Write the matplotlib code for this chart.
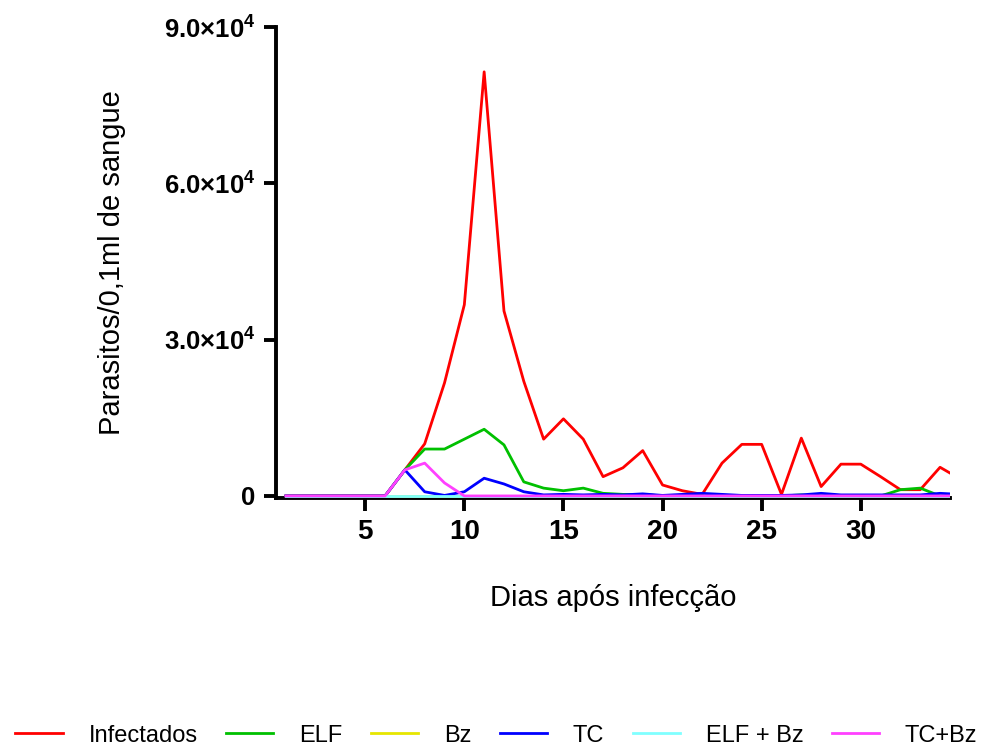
import numpy as np
import matplotlib
matplotlib.use("Agg")
import matplotlib.pyplot as plt

plt.rcParams['font.family'] = ['Liberation Sans', 'DejaVu Sans']
plt.rcParams['mathtext.fontset'] = 'custom'
plt.rcParams['mathtext.bf'] = 'Liberation Sans:bold'
plt.rcParams['mathtext.rm'] = 'Liberation Sans'

# dias apos infeccao
dias = np.arange(1, 36)

# parasitos/0,1ml
infectados = [0, 0, 0, 0, 0, 0, 5000, 10000, 21700, 36700, 81400, 35500, 22000,
              10900, 14800, 10900, 3700, 5400, 8700, 2100, 1000, 300, 6300, 9900,
              9900, 300, 11100, 1800, 6100, 6100, 3700, 1200, 1200, 5500, 3300]
elf = [0, 0, 0, 0, 0, 0, 5000, 9000, 9000, 10900, 12800, 9800, 2700,
       1500, 1000, 1500, 500, 300, 300, 0, 0, 0, 0, 0,
       0, 0, 200, 0, 0, 0, 0, 1200, 1500, 0, 0]
bz = [0] * 35
tc = [0, 0, 0, 0, 0, 0, 5000, 800, 100, 800, 3400, 2300, 800,
      200, 300, 200, 300, 200, 400, 100, 300, 500, 300, 100,
      100, 100, 200, 500, 200, 200, 200, 200, 200, 500, 300]
elf_bz = [0] * 35
tc_bz = [0, 0, 0, 0, 0, 0, 5000, 6300, 2500, 0, 0, 0, 0,
         0, 0, 0, 0, 0, 0, 0, 0, 0, 0, 0,
         0, 0, 0, 0, 0, 0, 0, 0, 0, 0, 0]

series = [
    ("Infectados", infectados, "#FF0000"),
    ("ELF", elf, "#00C000"),
    ("Bz", bz, "#E6E600"),
    ("TC", tc, "#0000FF"),
    ("ELF + Bz", elf_bz, "#80FFFF"),
    ("TC+Bz", tc_bz, "#FF40FF"),
]

yticks = [0, 30000, 60000, 90000]
ytick_labels = ["0", r"$\mathbf{3.0{\times}10^{4}}$", r"$\mathbf{6.0{\times}10^{4}}$",
                r"$\mathbf{9.0{\times}10^{4}}$"]
xticks = [5, 10, 15, 20, 25, 30]

fig = plt.figure(figsize=(9.83, 7.47), dpi=100)
ax = fig.add_axes([0.2808, 0.3333, 0.6856, 0.6305])

for nome, vals, cor in series:
    ax.plot(dias, vals, color=cor, lw=2.0, label=nome, zorder=3)

ax.set_xlim(0.5, 34.5)
ax.set_ylim(-400, 90000)
ax.set_xticks(xticks)
ax.set_xticklabels([str(t) for t in xticks], fontsize=20, fontweight='bold')
ax.set_yticks(yticks)
ax.set_yticklabels(ytick_labels, fontsize=18.5, fontweight='bold')

for s in ['top', 'right']:
    ax.spines[s].set_visible(False)
for s in ['left', 'bottom']:
    ax.spines[s].set_linewidth(2.8)
ax.tick_params(axis='both', width=2.8, length=9, pad=6)

ax.set_xlabel("Dias após infecção", fontsize=21)
ax.set_ylabel("Parasitos/0,1ml de sangue", fontsize=21)
ax.xaxis.set_label_coords(0.5, -0.183)
ax.yaxis.set_label_coords(-0.222, 0.5)

fig.legend(loc='lower center', bbox_to_anchor=(0.505, -0.028), ncol=6, frameon=False,
           fontsize=17, handlelength=2.0, handletextpad=1.1, columnspacing=1.2)

fig.savefig("out.png", dpi=100)
